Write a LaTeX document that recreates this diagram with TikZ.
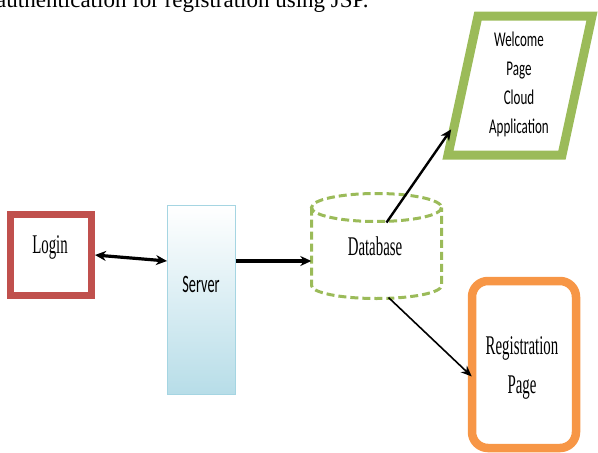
\documentclass[tikz,border=0pt]{standalone}
\usepackage{fontspec}
\usepackage{graphicx}
\setmainfont{Liberation Serif}
\newfontfamily\calibrilike{Carlito}
\usetikzlibrary{arrows.meta,calc}
\definecolor{loginred}{HTML}{C0504D}
\definecolor{leafgreen}{HTML}{9BBB59}
\definecolor{regorange}{HTML}{F79646}
\definecolor{serveredge}{HTML}{A5D5E2}
\definecolor{serverfill}{HTML}{B7DDE8}
% horizontally squeezed text
\newcommand\hsq[2][0.55]{\scalebox{#1}[1]{#2}}
\begin{document}
\begin{tikzpicture}[x=1pt,y=-1pt,
  seriftxt/.style={font=\fontsize{27}{39}\selectfont, inner sep=0, align=center},
  sanstxt/.style={font=\calibrilike\fontsize{21}{29}\selectfont, inner sep=0, align=center},
  link/.style={line width=3.2pt, -{Stealth[length=11pt,width=10pt]}},
  thinlink/.style={line width=1.6pt, -{Stealth[length=11pt,width=9pt]}},
  dbline/.style={draw=leafgreen, line width=3pt, dash pattern=on 8pt off 4pt}]
\useasboundingbox (0,0) rectangle (598,453);
\clip (0,0) rectangle (598,453);

% caption line running off the top
\node[anchor=base west, font=\fontsize{23}{27}\selectfont, inner sep=0] (caption) at (-4,7.5)
  {authentication for registration using JSP.};

% login box
\node[draw=loginred, line width=7pt, minimum width=81pt, minimum height=81pt, inner sep=0] (login) at (51,255) {};
\node[seriftxt] (logintxt) at (50,247) {\hsq{Login}};

% server
\node[draw=serveredge, line width=1pt, top color=white, bottom color=serverfill,
  minimum width=68pt, minimum height=189pt, inner sep=0] (server) at (201.5,300) {};
\node[sanstxt, font=\calibrilike\fontsize{25}{30}\selectfont] (servertxt) at (201,284) {\hsq[0.57]{Server}};

% database cylinder
\coordinate (dbc) at (376.5,207.5);
\node[inner sep=0, minimum width=130pt, minimum height=105pt] (db) at (376.5,246) {};
\draw[dbline] (dbc) ellipse [x radius=65, y radius=14];
\draw[dbline] ($(dbc)+(-65,0)$) -- ++(0,78)
  arc[start angle=180, end angle=0, x radius=65, y radius=13] -- ($(dbc)+(65,0)$);
\node[seriftxt] (dbtxt) at (375,246) {\hsq{Database}};

% welcome page parallelogram
\coordinate (wTL) at (478,16);
\coordinate (wTR) at (592,16);
\coordinate (wBR) at (562,155);
\coordinate (wBL) at (448,155);
\draw[leafgreen, line width=9pt, line join=miter] (wTL) -- (wTR) -- (wBR) -- (wBL) -- cycle;
\node[sanstxt] (welcometxt) at (519,84) {\hsq[0.62]{Welcome}\\\hsq[0.62]{Page}\\\hsq[0.62]{Cloud}\\\hsq[0.62]{Application}};

% registration page
\node[draw=regorange, line width=8.5pt, rounded corners=16pt, minimum width=104pt,
  minimum height=167pt, inner sep=0] (reg) at (524,364.5) {};
\node[seriftxt] (regtxt) at (522,367.5) {\hsq{Registration}\\\hsq{Page}};

% connectors
\coordinate (feed) at ($(server.north east)+(0,56)$);
\coordinate (dbout) at ($(dbc)+(10,15)$);
\coordinate (dblow) at ($(dbc)+(12,90)$);
\coordinate (wleft) at ($(wBL)!0.22!(wTL)$);
\draw[link, {Stealth[length=11pt,width=10pt]}-{Stealth[length=11pt,width=10pt]}]
  (login.east) -- ($(server.north west)+(0,56)$);
\draw[link] (feed) -- (feed -| db.west);
\draw[link, line width=2.4pt, shorten >=6pt] (dbout) -- (wleft);
\draw[thinlink] (dblow) -- ($(reg.west)+(4,12)$);
\end{tikzpicture}
\end{document}
